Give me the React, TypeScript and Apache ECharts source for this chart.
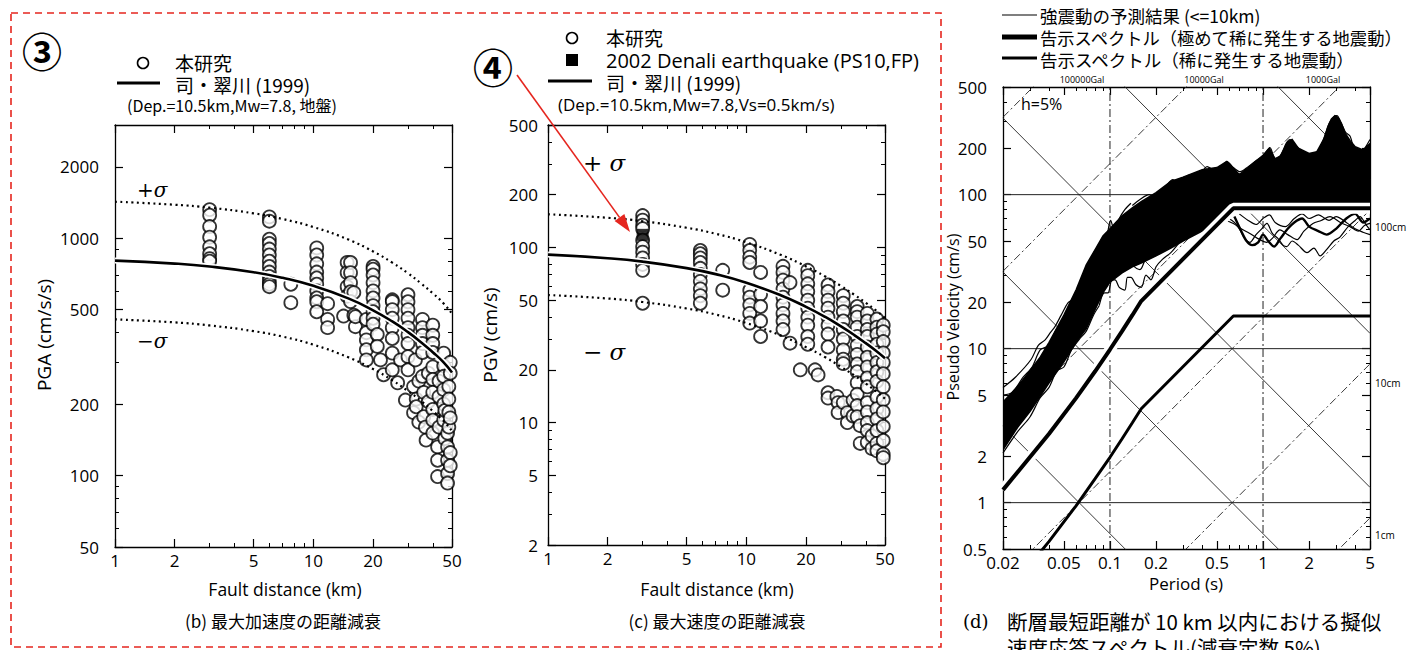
import React, { useEffect, useRef } from "react";
import * as echarts from "echarts";

// ---------- tick values ----------
const DIST_LABELS = [1, 2, 5, 10, 20, 50];
const DIST_TICKS = [1, 2, 3, 4, 5, 6, 7, 8, 9, 10, 20, 30, 40, 50];
const PGA_LABELS = [50, 100, 200, 500, 1000, 2000];
const PGA_TICKS = [50, 60, 70, 80, 90, 100, 200, 300, 400, 500, 600, 700, 800, 900, 1000, 2000, 3000];
const PGV_LABELS = [2, 5, 10, 20, 50, 100, 200, 500];
const PGV_TICKS = [2, 3, 4, 5, 6, 7, 8, 9, 10, 20, 30, 40, 50, 60, 70, 80, 90, 100, 200, 300, 400, 500];
const PERIOD_LABELS = [0.02, 0.05, 0.1, 0.2, 0.5, 1, 2, 5];
const PERIOD_TICKS = [0.02, 0.03, 0.04, 0.05, 0.06, 0.07, 0.08, 0.09, 0.1, 0.2, 0.3, 0.4, 0.5, 0.6, 0.7, 0.8, 0.9, 1, 2, 3, 4, 5];
const PSV_LABELS = [0.5, 1, 2, 5, 10, 20, 50, 100, 200, 500];
const PSV_TICKS = [0.5, 0.6, 0.7, 0.8, 0.9, 1, 2, 3, 4, 5, 6, 7, 8, 9, 10, 20, 30, 40, 50, 60, 70, 80, 90, 100, 200, 300, 400, 500];

// ---------- attenuation relations (Si & Midorikawa 1999) ----------
const MODEL_DIST = [1, 2, 3, 5, 7, 10, 15, 20, 25, 30, 35, 40, 45, 50];
const PGA_MEAN = [805, 782, 760, 719, 681, 630, 558, 497, 446, 402, 364, 331, 302, 272];
const PGA_PLUS = [1425, 1384, 1345, 1273, 1205, 1115, 988, 880, 789, 712, 644, 586, 535, 481];
const PGA_MINUS = [455, 442, 429, 406, 385, 356, 315, 281, 252, 227, 206, 187, 171, 154];
const PGV_MEAN = [91, 86.8, 83, 76.2, 70.4, 62.9, 53.2, 45.8, 40.1, 35.4, 31.6, 28.4, 25.7, 23.3];
const PGV_PLUS = [154.7, 147.6, 141.1, 129.5, 119.7, 106.9, 90.4, 77.9, 68.2, 60.2, 53.7, 48.3, 43.7, 39.6];
const PGV_MINUS = [53.5, 51.1, 48.8, 44.8, 41.4, 37.0, 31.3, 26.9, 23.6, 20.8, 18.6, 16.7, 15.1, 13.7];

// ---------- observations: [distance, values] ----------
const PGA_OBS: [number, number[]][] = [
  [3, [1320, 1250, 1120, 1010, 920, 860, 820, 800]],
  [6, [1230, 1180, 990, 950, 900, 850, 800, 760, 720, 690, 660, 640, 625]],
  [7.7, [640, 535]],
  [10.4, [910, 850, 780, 720, 680, 640, 600, 560, 540, 490]],
  [11.8, [530, 455, 420]],
  [14.2, [470]],
  [14.8, [790, 716, 625, 570]],
  [15.4, [790, 716, 650, 595, 541]],
  [16.0, [474, 590]],
  [16.3, [424, 467]],
  [18.5, [455, 400, 373, 339, 307]],
  [20, [760, 740, 700, 650, 600, 560, 520, 490, 460, 434]],
  [21, [393, 350]],
  [21.8, [307]],
  [22.6, [266]],
  [25, [550, 541, 500, 460, 420, 378, 328, 279]],
  [26.6, [246]],
  [27.5, [307]],
  [29.1, [208]],
  [30, [578, 540, 500, 460, 420, 390, 360, 317, 279]],
  [32, [237, 184]],
  [32.7, [307]],
  [33, [210, 195]],
  [34, [250, 168]],
  [35.5, [455, 420, 390, 360, 330, 262]],
  [36, [224, 177]],
  [36.7, [160]],
  [37, [141]],
  [38, [270, 205]],
  [40, [430, 390, 360, 330, 287, 254, 224, 190, 171, 151]],
  [42.3, [132, 116, 99]],
  [43, [250, 215, 160]],
  [45.4, [328, 290, 262, 230, 200, 171]],
  [46, [188, 143]],
  [47.5, [151, 132, 116, 102, 93]],
  [48.2, [237, 210, 185, 160]],
  [49, [300, 270, 175, 125, 110]],
];

const PGV_OBS: [number, number[]][] = [
  [3, [152, 143, 134, 128, 110, 101, 94, 87, 80, 74, 48]],
  [5.86, [96, 92, 87, 82, 76, 70, 64, 58, 53, 48]],
  [7.6, [74, 57]],
  [10.4, [104, 96, 88, 82, 57, 52, 47, 42, 37]],
  [11.8, [72, 54, 46, 38, 31]],
  [15.3, [78, 72, 65, 58, 52, 47, 42, 38, 34]],
  [16.6, [63, 28.4]],
  [18.7, [20]],
  [20.4, [74, 69, 62, 56, 50, 45, 40, 36, 31, 28]],
  [22.2, [20]],
  [23, [18.7]],
  [25.8, [61, 56, 50, 45, 40, 36, 32, 27, 14.8, 13.8]],
  [28.6, [14.1]],
  [29, [13, 11.4]],
  [30.8, [53, 48, 43, 38, 34, 30, 26, 23, 21.7, 13]],
  [32.3, [11.4, 10]],
  [34.5, [13.4, 10.9]],
  [36.2, [46, 43, 40, 35, 31, 27.6, 24.5, 21.6, 19.5, 16.9, 14.5, 12.5, 10.8]],
  [37.5, [9.6, 7.6]],
  [40.7, [42, 38, 34, 31, 27, 23.6, 20.8, 18, 16, 13, 11.5, 10, 9, 7.7]],
  [43, [8.4, 7.1]],
  [45.5, [39, 35, 32, 28, 25, 22, 19.5, 17.2, 14, 12, 10.5, 9, 7.6, 6.9]],
  [49, [36, 33, 29, 25, 22, 19, 16, 13.5, 11.5, 9.5, 7.9, 6.6, 6.3]],
];
const DENALI: [number, number][] = [[3, 118]];

// ---------- response spectra ----------
const BAND_T = [0.02, 0.025, 0.03, 0.035, 0.04, 0.05, 0.06, 0.07, 0.08, 0.09, 0.1, 0.12, 0.14, 0.16, 0.2, 0.25, 0.3, 0.4,
  0.5, 0.58, 0.7, 0.8, 0.9, 1.0, 1.1, 1.2, 1.3, 1.45, 1.55, 1.7, 2.0, 2.25, 2.5, 2.65, 2.8, 2.95, 3.1, 3.25, 3.45, 3.7, 4.0, 4.5, 5.0];
const BAND_UPPER = [4.5, 5.7, 7.2, 8.8, 11, 16.5, 24, 35, 44, 54, 60, 73, 82, 90, 103, 122, 130, 145,
  150, 164, 135, 150, 165, 180, 200, 170, 178, 220, 228, 200, 185, 190, 230, 275, 310, 325, 315, 290, 250, 225, 205, 195, 215];
const BAND_LOWER = [2.2, 3.1, 3.9, 4.9, 6.0, 8.2, 11, 13.5, 18, 23, 27, 31, 34, 36, 40, 45, 50, 58,
  66, 74, 80, 80, 80, 80, 80, 80, 80, 80, 80, 80, 80, 80, 80, 80, 80, 80, 80, 80, 80, 80, 80, 80, 80];

const CURVE_UP_A: [number, number][] = [[0.02, 5.6], [0.024, 6.5], [0.0305, 8.5], [0.034, 10.5], [0.0377, 11.4], [0.041, 12.8], [0.0437, 13.9], [0.048, 16.5], [0.0533, 19.9], [0.058, 21], [0.0619, 23], [0.068, 29], [0.0752, 37.8], [0.0834, 45.7], [0.09, 44], [0.095, 52], [0.101, 68], [0.107, 58], [0.115, 70], [0.125, 80], [0.137, 88]];
const CURVE_UP_B: [number, number][] = [[0.02, 5.0], [0.023, 5.2], [0.027, 6.5], [0.031, 7.6], [0.035, 9.8], [0.04, 10.5], [0.045, 13.5], [0.05, 14.8], [0.056, 18.5], [0.062, 20.5], [0.07, 26], [0.078, 33], [0.085, 36], [0.092, 42], [0.1, 47], [0.11, 55], [0.12, 62]];
const CURVE_UP_C: [number, number][] = [[0.14, 85], [0.157, 93], [0.18, 100], [0.2, 96], [0.23, 112], [0.258, 125], [0.29, 116], [0.33, 134], [0.37, 127], [0.431, 152], [0.5, 140], [0.55, 158], [0.582, 164], [0.64, 150], [0.708, 141], [0.8, 152], [0.9, 166], [1.0, 178], [1.11, 202], [1.2, 172], [1.3, 180], [1.42, 216], [1.5, 228], [1.62, 210], [1.8, 192], [2.0, 184], [2.25, 190], [2.5, 232], [2.7, 290], [2.9, 320], [3.04, 326], [3.2, 300], [3.45, 255], [3.7, 240], [3.9, 200], [4.11, 165], [4.4, 185], [4.7, 205], [5.0, 228]];
const CURVE_LOW_A: [number, number][] = [[0.085, 19], [0.092, 23], [0.097, 23], [0.103, 28], [0.108, 28], [0.115, 25], [0.125, 24], [0.13, 29], [0.137, 29], [0.148, 26], [0.16, 25], [0.172, 30], [0.185, 28], [0.2, 34], [0.22, 38], [0.25, 42], [0.28, 48]];
const CURVE_LOW_B: [number, number][] = [[0.09, 26], [0.098, 30], [0.105, 29], [0.115, 35], [0.129, 39.5], [0.14, 35], [0.157, 32.6], [0.17, 38], [0.19, 46], [0.21, 44], [0.24, 50], [0.27, 55]];
const CURVE_LOW_C: [number, number][] = [[0.02, 2.1], [0.025, 2.9], [0.03, 3.6], [0.035, 4.8], [0.04, 5.6], [0.045, 7.2], [0.05, 7.6], [0.056, 9.8], [0.063, 11.5], [0.07, 13], [0.078, 16.5], [0.085, 19]];
const CURVE_R1: [number, number][] = [[0.6, 70], [0.65, 66], [0.7, 60], [0.76, 52], [0.82, 49], [0.9, 55], [0.98, 60], [1.06, 65], [1.15, 56], [1.25, 52], [1.35, 47], [1.43, 46], [1.55, 50], [1.7, 47], [1.94, 42], [2.15, 45], [2.36, 40], [2.6, 44], [2.9, 50], [3.18, 53], [3.6, 62], [4.0, 68], [4.3, 72], [4.7, 64], [5.0, 59]];
const CURVE_R2: [number, number][] = [[0.55, 69], [0.64, 65], [0.72, 60], [0.82, 56], [0.92, 52], [1.06, 49], [1.15, 52], [1.29, 59], [1.45, 55], [1.67, 51], [1.85, 58], [2.12, 65], [2.4, 68], [2.74, 72], [3.2, 66], [3.7, 62], [4.2, 58], [4.6, 63], [5.0, 65]];
const CURVE_R3: [number, number][] = [[0.65, 72], [0.72, 58], [0.78, 50], [0.85, 47], [0.93, 49], [1.0, 55], [1.08, 50], [1.18, 46], [1.3, 52], [1.45, 60], [1.6, 66], [1.8, 70], [2.0, 62], [2.3, 58], [2.6, 55], [3.0, 60], [3.5, 70], [4.0, 75], [4.5, 66], [5.0, 70]];
const CURVE_R4: [number, number][] = [[0.7, 75], [0.8, 68], [0.9, 64], [1.0, 70], [1.1, 74], [1.2, 66], [1.4, 62], [1.6, 70], [1.8, 75], [2.0, 70], [2.3, 74], [2.7, 68], [3.0, 72], [3.5, 66], [4.0, 60], [4.5, 57], [5.0, 55]];

const SPEC_T = [0.02, 0.04, 0.06, 0.08, 0.1, 0.12, 0.14, 0.16, 0.64, 5];
const SPEC_VERY_RARE = [1.21, 2.8, 4.77, 7.13, 9.87, 12.99, 16.49, 20.37, 81.5, 81.5];
const SPEC_RARE = [0.242, 0.56, 0.954, 1.43, 1.97, 2.6, 3.3, 4.07, 16.3, 16.3];

const DISP_LINES_CM = [0.01, 0.1, 1, 10, 100];
const ACC_LINES_GAL = [1, 10, 100, 1000, 10000, 100000];
const H_GRID = [1, 10, 100];
const V_GRID = [0.1, 1];

// ---------- styling ----------
const FONT = "'Open Sans', 'DejaVu Sans', sans-serif";
const CJK = "'Noto Sans CJK JP', sans-serif";
const SERIF = "'DejaVu Serif', 'Liberation Serif', serif";
const RED = "#e5261f";

const fmt = (v: number) => String(Number(Number(v).toPrecision(6)));

function makeAxes(dim: "x" | "y", gridIndex: number, min: number, max: number, labels: number[], ticks: number[], labelOpt: any) {
  const isX = dim === "x";
  const p1 = isX ? "bottom" : "left";
  const p2 = isX ? "top" : "right";
  const base: any = { type: "log", logBase: 10, gridIndex, min, max, splitLine: { show: false } };
  const lineOn = { show: true, onZero: false, lineStyle: { color: "#000", width: 1.3 } };
  const majorTick = { show: true, inside: true, length: 8, customValues: labels, lineStyle: { color: "#000", width: 1.2 } };
  const minorTick = { show: true, inside: true, length: 4, customValues: ticks, lineStyle: { color: "#000", width: 1 } };
  return [
    { ...base, position: p1, axisLine: lineOn, axisTick: majorTick, axisLabel: { show: true, customValues: labels, formatter: fmt, color: "#000", fontFamily: FONT, ...labelOpt } },
    { ...base, position: p1, axisLine: { show: false }, axisTick: minorTick, axisLabel: { show: false } },
    { ...base, position: p2, axisLine: lineOn, axisTick: majorTick, axisLabel: { show: false } },
    { ...base, position: p2, axisLine: { show: false }, axisTick: minorTick, axisLabel: { show: false } },
  ];
}

const flat = (obs: [number, number[]][]) => obs.flatMap(([x, ys]) => ys.map((y) => [x, y]));
const zip = (xs: number[], ys: number[]) => xs.map((x, i) => [x, ys[i]]);

function txt(x: number, y: number, text: string, size: number, family: string, opt: any = {}) {
  const font = `${opt.style ? opt.style + " " : ""}${size}px ${family}`;
  return {
    type: "text", x, y, z: 100, rotation: opt.rot || 0,
    style: {
      text, font, fill: opt.fill || "#000", lineHeight: Math.round(size),
      textAlign: opt.align || "left", textVerticalAlign: "middle", align: opt.align || "left", verticalAlign: "middle",
    },
  };
}
function hline(x1: number, x2: number, y: number, w: number, color = "#000") {
  return { type: "line", z: 100, shape: { x1, y1: y, x2, y2: y }, style: { stroke: color, lineWidth: w } };
}

function buildOption() {
  const xAxis = [
    ...makeAxes("x", 0, 1, 50, DIST_LABELS, DIST_TICKS, { fontSize: 17, margin: 5 }),
    ...makeAxes("x", 1, 1, 50, DIST_LABELS, DIST_TICKS, { fontSize: 17, margin: 5 }),
    ...makeAxes("x", 2, 0.02, 5, PERIOD_LABELS, PERIOD_TICKS, { fontSize: 17, margin: 5 }),
  ];
  const yAxis = [
    ...makeAxes("y", 0, 50, 3000, PGA_LABELS, PGA_TICKS, { fontSize: 17, margin: 16 }),
    ...makeAxes("y", 1, 2, 500, PGV_LABELS, PGV_TICKS, { fontSize: 17, margin: 10 }),
    ...makeAxes("y", 2, 0.5, 500, PSV_LABELS, PSV_TICKS, { fontSize: 17, margin: 16 }),
  ];
  const B = { xAxisIndex: 0, yAxisIndex: 0 };
  const C = { xAxisIndex: 4, yAxisIndex: 4 };
  const D = { xAxisIndex: 8, yAxisIndex: 8 };
  const circle = { symbol: "circle", symbolSize: 13, itemStyle: { color: "#fff", borderColor: "#000", borderWidth: 1.8 } };
  const line = (axes: any, data: any, width: number, z: number, extra: any = {}) => ({
    type: "line", ...axes, data, showSymbol: false, symbol: "none", smooth: extra.smooth ?? false, z, silent: true,
    lineStyle: { color: extra.color || "#000", width, type: extra.dash || "solid" },
  });

  const series: any[] = [
    // panel b
    { type: "scatter", ...B, data: flat(PGA_OBS), ...circle, z: 2 },
    line(B, zip(MODEL_DIST, PGA_PLUS), 2.2, 4, { dash: [2, 3.5], smooth: true }),
    line(B, zip(MODEL_DIST, PGA_MINUS), 2.2, 4, { dash: [2, 3.5], smooth: true }),
    line(B, zip(MODEL_DIST, PGA_MEAN), 6, 4, { color: "#fff", smooth: true }),
    line(B, zip(MODEL_DIST, PGA_MEAN), 2.6, 5, { smooth: true }),
    // panel c
    { type: "scatter", ...C, data: flat(PGV_OBS), ...circle, z: 2 },
    { type: "scatter", ...C, data: DENALI, symbol: "rect", symbolSize: 12, itemStyle: { color: "#000" }, z: 3 },
    line(C, zip(MODEL_DIST, PGV_PLUS), 2.2, 4, { dash: [2, 3.5], smooth: true }),
    line(C, zip(MODEL_DIST, PGV_MINUS), 2.2, 4, { dash: [2, 3.5], smooth: true }),
    line(C, zip(MODEL_DIST, PGV_MEAN), 6, 4, { color: "#fff", smooth: true }),
    line(C, zip(MODEL_DIST, PGV_MEAN), 2.6, 5, { smooth: true }),
  ];
  // panel d: tripartite grid
  DISP_LINES_CM.forEach((d) => series.push(line(D, [[0.02, (2 * Math.PI * d) / 0.02], [5, (2 * Math.PI * d) / 5]], 0.9, 1, { color: "#222" })));
  ACC_LINES_GAL.forEach((a) => series.push(line(D, [[0.02, (a * 0.02) / (2 * Math.PI)], [5, (a * 5) / (2 * Math.PI)]], 0.9, 1, { color: "#222", dash: [8, 3, 2, 3] })));
  H_GRID.forEach((v) => series.push(line(D, [[0.02, v], [5, v]], 1, 1, { color: "#222" })));
  V_GRID.forEach((t) => series.push(line(D, [[t, 0.5], [t, 500]], 1, 1, { color: "#222", dash: [8, 3, 2, 3] })));
  // dense band of computed spectra
  series.push({
    type: "custom", ...D, data: [[1, 10]], z: 2, silent: true, clip: true,
    renderItem: (_p: any, api: any) => {
      const pts: number[][] = [];
      for (let i = 0; i < BAND_T.length; i++) pts.push(api.coord([BAND_T[i], BAND_UPPER[i]]));
      for (let i = BAND_T.length - 1; i >= 0; i--) pts.push(api.coord([BAND_T[i], BAND_LOWER[i]]));
      return { type: "polygon", shape: { points: pts }, style: { fill: "#000", stroke: "#000", lineWidth: 1.5 } };
    },
  });
  [CURVE_UP_A, CURVE_UP_B, CURVE_UP_C, CURVE_LOW_A, CURVE_LOW_B, CURVE_LOW_C, CURVE_R1, CURVE_R2, CURVE_R4].forEach((c) =>
    series.push(line(D, c, 1.2, 3, { smooth: 0.3 }))
  );
  series.push(line(D, CURVE_R3, 2.4, 3, { smooth: 0.3 }));
  // design spectra
  series.push(line(D, zip(SPEC_T, SPEC_VERY_RARE), 11, 4, { color: "#fff" }));
  series.push(line(D, zip(SPEC_T, SPEC_VERY_RARE), 4, 5));
  series.push(line(D, zip(SPEC_T, SPEC_RARE), 3, 5));

  // arrow geometry
  const ax1 = 517, ay1 = 75, ax2 = 630, ay2 = 232;
  const len = Math.hypot(ax2 - ax1, ay2 - ay1);
  const ux = (ax2 - ax1) / len, uy = (ay2 - ay1) / len;
  const bx = ax2 - ux * 18, by = ay2 - uy * 18;

  const graphic: any[] = [
    { type: "rect", z: 100, shape: { x: 11, y: 13, width: 930, height: 634 }, style: { fill: "none", stroke: RED, lineWidth: 1.6, lineDash: [7, 5] } },
    // panel b header
    txt(42, 50, "③", 40, CJK, { align: "center", style: "bold" }),
    { type: "circle", z: 100, shape: { cx: 143, cy: 63, r: 5.5 }, style: { fill: "#fff", stroke: "#000", lineWidth: 1.6 } },
    txt(175, 62, "本研究", 19, CJK),
    hline(117, 160, 83, 3),
    txt(175, 84, "司・翠川 (1999)", 19, CJK),
    txt(127, 105, "(Dep.=10.5km,Mw=7.8, 地盤)", 16, CJK),
    txt(137, 190, "+σ", 20, SERIF, { style: "italic" }),
    txt(137, 341, "−σ", 20, SERIF, { style: "italic" }),
    txt(44, 335, "PGA (cm/s/s)", 19, FONT, { align: "center", rot: Math.PI / 2 }),
    txt(285, 589, "Fault distance (km)", 17.5, FONT, { align: "center" }),
    txt(283, 620, "(b) 最大加速度の距離減衰", 17, CJK, { align: "center" }),
    // panel c header
    txt(493, 66, "④", 40, CJK, { align: "center", style: "bold" }),
    { type: "circle", z: 100, shape: { cx: 572, cy: 38, r: 5.5 }, style: { fill: "#fff", stroke: "#000", lineWidth: 1.6 } },
    txt(606, 37, "本研究", 19, CJK),
    { type: "rect", z: 100, shape: { x: 566, y: 54, width: 12, height: 12 }, style: { fill: "#000" } },
    txt(606, 60, "2002 Denali earthquake (PS10,FP)", 20, FONT),
    hline(548, 592, 81, 3),
    txt(606, 82, "司・翠川 (1999)", 19, CJK),
    txt(558, 104, "(Dep.=10.5km,Mw=7.8,Vs=0.5km/s)", 17, FONT),
    txt(583, 163, "+ σ", 23, SERIF, { style: "italic" }),
    txt(583, 352, "− σ", 23, SERIF, { style: "italic" }),
    txt(490, 335, "PGV (cm/s)", 19, FONT, { align: "center", rot: Math.PI / 2 }),
    txt(717, 589, "Fault distance (km)", 17.5, FONT, { align: "center" }),
    txt(717, 620, "(c) 最大速度の距離減衰", 17, CJK, { align: "center" }),
    { type: "line", z: 101, shape: { x1: ax1, y1: ay1, x2: bx, y2: by }, style: { stroke: RED, lineWidth: 1.6 } },
    { type: "polygon", z: 101, shape: { points: [[ax2, ay2], [bx - uy * 6, by + ux * 6], [bx + uy * 6, by - ux * 6]] }, style: { fill: RED } },
    // panel d
    hline(1002, 1037, 15, 1.2),
    txt(1040, 15, "強震動の予測結果 (<=10km)", 17.5, CJK),
    hline(1002, 1037, 37, 5),
    txt(1040, 37, "告示スペクトル（極めて稀に発生する地震動）", 17.3, CJK),
    hline(1002, 1037, 58, 3),
    txt(1040, 59, "告示スペクトル（稀に発生する地震動）", 17.5, CJK),
    txt(1082, 79, "100000Gal", 9, FONT, { align: "center" }),
    txt(1204, 79, "10000Gal", 9, FONT, { align: "center" }),
    txt(1323, 79, "1000Gal", 9, FONT, { align: "center" }),
    txt(1375, 227, "100cm", 10, FONT),
    txt(1375, 383, "10cm", 10, FONT),
    txt(1375, 535, "1cm", 10, FONT),
    txt(1021, 104, "h=5%", 16, FONT),
    txt(953, 317, "Pseudo Velocity (cm/s)", 16, FONT, { align: "center", rot: Math.PI / 2 }),
    txt(1186, 583, "Period (s)", 17, FONT, { align: "center" }),
    txt(963, 621, "(d)", 18, SERIF),
    txt(1007, 621, "断層最短距離が 10 km 以内における擬似", 20.5, CJK),
    txt(1007, 647, "速度応答スペクトル(減衰定数 5%)", 20.5, CJK),
  ];

  return {
    animation: false,
    backgroundColor: "#fff",
    grid: [
      { left: 115, top: 125, width: 337, height: 422 },
      { left: 548, top: 125, width: 337, height: 420 },
      { left: 1003, top: 87, width: 367, height: 462 },
    ],
    xAxis,
    yAxis,
    series,
    graphic,
  };
}

export default function App() {
  const ref = useRef<HTMLDivElement>(null);
  useEffect(() => {
    const chart = echarts.init(ref.current!, null, { renderer: "svg" });
    chart.setOption(buildOption() as any);
    return () => chart.dispose();
  }, []);
  return <div ref={ref} style={{ position: "absolute", left: 0, top: 0, width: 1415, height: 650, background: "#fff" }} />;
}
